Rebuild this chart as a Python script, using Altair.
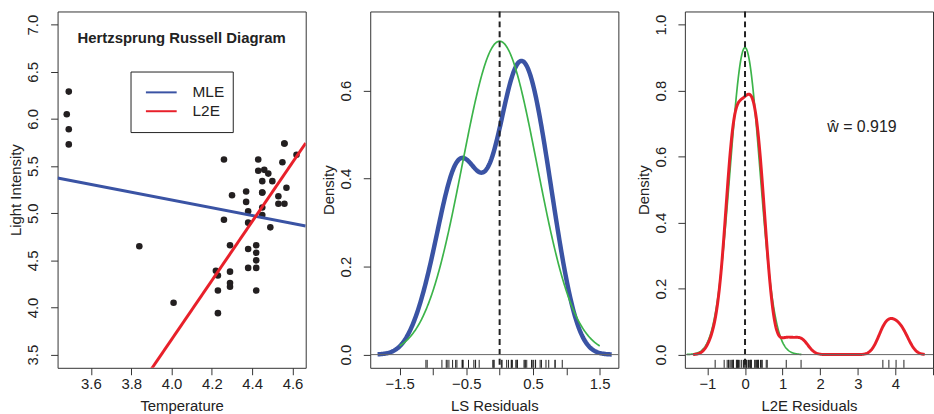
import altair as alt
import numpy as np
import pandas as pd

# ---------------- data (CYG OB1 stars, log scale) ----------------
temperature = [4.37, 4.56, 4.26, 4.56, 4.30, 4.46, 3.84, 4.57, 4.26, 4.37, 3.49, 4.43,
               4.48, 4.01, 4.29, 4.42, 4.23, 4.42, 4.23, 3.49, 4.29, 4.29, 4.42, 4.49,
               4.38, 4.42, 4.29, 4.38, 4.22, 3.48, 4.38, 4.56, 4.45, 3.49, 4.23, 4.62,
               4.53, 4.45, 4.53, 4.43, 4.38, 4.45, 4.50, 4.45, 4.55, 4.45, 4.42]
light = [5.23, 5.74, 4.93, 5.74, 5.19, 5.46, 4.65, 5.27, 5.57, 5.12, 5.73, 5.45,
         5.42, 4.05, 4.26, 4.58, 3.94, 4.18, 4.18, 5.89, 4.38, 4.22, 4.42, 4.85,
         5.02, 4.66, 4.66, 4.90, 4.39, 6.05, 4.42, 5.10, 5.22, 6.29, 4.34, 5.62,
         5.10, 5.22, 5.18, 5.57, 4.62, 5.06, 5.34, 5.34, 5.54, 4.98, 4.50]

# L2E fit
l2e_intercept = -8.86
l2e_slope = 3.13
l2e_weight = 0.919
l2e_sigma = 0.394
ls_sigma = 0.56

legend_labels = ["MLE", "L2E"]
title_text = "Hertzsprung Russell Diagram"
w_label = "ŵ = 0.919"

# tick values
p1_xticks = [3.6, 3.8, 4.0, 4.2, 4.4, 4.6]
p1_yticks = [3.5, 4.0, 4.5, 5.0, 5.5, 6.0, 6.5, 7.0]
p2_xticks = [-1.5, -1.0, -0.5, 0.0, 0.5, 1.0, 1.5]
p2_yticks = [0.0, 0.2, 0.4, 0.6]
p3_xticks = [-1, 0, 1, 2, 3, 4, 5]
p3_yticks = [0.0, 0.2, 0.4, 0.6, 0.8, 1.0]

# ---------------- derived tables ----------------
stars = pd.DataFrame({"temperature": temperature, "light": light})
ls_slope, ls_intercept = np.polyfit(temperature, light, 1)
stars["ls_resid"] = stars["light"] - (ls_intercept + ls_slope * stars["temperature"])
stars["l2e_resid"] = stars["light"] - (l2e_intercept + l2e_slope * stars["temperature"])

p1_xdom = [3.4344, 4.6656]
p1_ydom = [3.36, 7.14]
p2_xdom = [-1.94, 1.78]
p2_ydom = [-0.03, 0.78]
p3_xdom = [-1.6, 5.0]
p3_ydom = [-0.04, 1.04]

l2e_line = pd.DataFrame({"temperature": p1_xdom,
                         "light": [l2e_intercept + l2e_slope * v for v in p1_xdom]})
zero_df = pd.DataFrame({"x": [0.0], "y": [0.0]})
one = pd.DataFrame({"a": [0]})

# ---------------- style ----------------
FONT = "Liberation Sans"
W, H = 250, 359
BLUE = "#3A53A4"
RED = "#E8202A"
GREEN = "#3CB44A"
INK = "#222222"


def xaxis(values, title, label_expr=None):
    kw = dict(values=values, format=".1f", title=title, tickSize=7, labelPadding=2,
              titleX=W / 2, titleY=43, titleBaseline="alphabetic", titleAlign="center")
    if label_expr:
        kw["labelExpr"] = label_expr
    return alt.Axis(**kw)


def yaxis(values, title):
    return alt.Axis(values=values, format=".1f", title=title, tickSize=7,
                    labelAngle=270, labelAlign="center", labelBaseline="bottom",
                    labelPadding=10, titleAngle=270, titleX=-37, titleY=H / 2,
                    titleAlign="center", titleBaseline="alphabetic")


# ---------------- panel 1 ----------------
xs1 = alt.Scale(domain=p1_xdom, nice=False, zero=False)
ys1 = alt.Scale(domain=p1_ydom, nice=False, zero=False)
ax1x = xaxis(p1_xticks, "Temperature")
ax1y = yaxis(p1_yticks, "Light Intensity")
X1 = alt.X("temperature:Q", scale=xs1, axis=ax1x)
Y1 = alt.Y("light:Q", scale=ys1, axis=ax1y)

pts = alt.Chart(stars).mark_circle(size=44, color="#231F20", opacity=1).encode(x=X1, y=Y1)
mle = (alt.Chart(stars).transform_regression("temperature", "light", extent=p1_xdom)
       .mark_line(color=BLUE, strokeWidth=3, clip=True).encode(x=X1, y=Y1))
l2e = alt.Chart(l2e_line).mark_line(color=RED, strokeWidth=3, clip=True).encode(x=X1, y=Y1)
leg_box = alt.Chart(one).mark_rect(fill="white", stroke=INK, strokeWidth=1).encode(
    x=alt.value(74), x2=alt.value(177), y=alt.value(61), y2=alt.value(122))
leg_l1 = alt.Chart(one).mark_rule(color=BLUE, strokeWidth=2).encode(
    x=alt.value(89), x2=alt.value(120), y=alt.value(81.5))
leg_l2 = alt.Chart(one).mark_rule(color=RED, strokeWidth=2).encode(
    x=alt.value(89), x2=alt.value(120), y=alt.value(100.5))
leg_t1 = alt.Chart(one).mark_text(align="left", baseline="middle", font=FONT, fontSize=15.5,
                                  color=INK).encode(x=alt.value(136), y=alt.value(81.5),
                                                    text=alt.value(legend_labels[0]))
leg_t2 = alt.Chart(one).mark_text(align="left", baseline="middle", font=FONT, fontSize=15.5,
                                  color=INK).encode(x=alt.value(136), y=alt.value(100.5),
                                                    text=alt.value(legend_labels[1]))
ttl = alt.Chart(one).mark_text(align="center", baseline="middle", font=FONT, fontSize=15,
                               fontWeight="bold", color=INK).encode(
    x=alt.value(W / 2), y=alt.value(27), text=alt.value(title_text))

p1 = alt.layer(pts, mle, l2e, leg_box, leg_l1, leg_l2, leg_t1, leg_t2, ttl).properties(
    width=W, height=H)

# ---------------- panel 2 ----------------
xs2 = alt.Scale(domain=p2_xdom, nice=False, zero=False)
ys2 = alt.Scale(domain=p2_ydom, nice=False, zero=False)
ax2x = xaxis(p2_xticks, "LS Residuals",
             "(datum.value == -1.5 || datum.value == -0.5 || datum.value == 0.5 || datum.value == 1.5) ? datum.label : ''")
ax2y = yaxis(p2_yticks, "Density")
X2 = lambda f: alt.X(f, type="quantitative", scale=xs2, axis=ax2x)
Y2 = lambda f: alt.Y(f, type="quantitative", scale=ys2, axis=ax2y)

kde2 = (alt.Chart(stars).transform_density("ls_resid", as_=["x", "density"], bandwidth=0.235,
                                           extent=[-1.83, 1.68], steps=300)
        .mark_line(color=BLUE, strokeWidth=4.5).encode(x=X2("x"), y=Y2("density")))
norm2 = (alt.Chart(alt.sequence(-1.5, 1.505, 0.01, as_="x"))
         .transform_calculate(density=f"densityNormal(datum.x, 0, {ls_sigma})")
         .mark_line(color=GREEN, strokeWidth=1.7).encode(x=X2("x"), y=Y2("density")))
h2 = alt.Chart(zero_df).mark_rule(color="#666666", strokeWidth=1).encode(y=Y2("y"))
v2 = alt.Chart(zero_df).mark_rule(color=INK, strokeWidth=2, strokeDash=[6, 4]).encode(
    x=X2("x"), y=alt.value(0), y2=alt.value(H))
rug2 = alt.Chart(stars).mark_rule(color=INK, strokeWidth=1).encode(
    x=X2("ls_resid"), y=alt.value(351), y2=alt.value(359))

p2 = alt.layer(kde2, norm2, v2, h2, rug2).properties(width=W, height=H)

# ---------------- panel 3 ----------------
xs3 = alt.Scale(domain=p3_xdom, nice=False, zero=False)
ys3 = alt.Scale(domain=p3_ydom, nice=False, zero=False)
ax3x = xaxis(p3_xticks, "L2E Residuals", "datum.value < 4.5 ? format(datum.value, 'd') : ''")
ax3y = yaxis(p3_yticks, "Density")
X3 = lambda f: alt.X(f, type="quantitative", scale=xs3, axis=ax3x)
Y3 = lambda f: alt.Y(f, type="quantitative", scale=ys3, axis=ax3y)

norm3 = (alt.Chart(alt.sequence(-1.55, 1.505, 0.01, as_="x"))
         .transform_calculate(density=f"{l2e_weight} * densityNormal(datum.x, 0, {l2e_sigma})")
         .mark_line(color=GREEN, strokeWidth=1.7).encode(x=X3("x"), y=Y3("density")))
kde3 = (alt.Chart(stars).transform_density("l2e_resid", as_=["x", "density"], bandwidth=0.19,
                                           extent=[-1.38, 4.78], steps=400)
        .mark_line(color=RED, strokeWidth=3).encode(x=X3("x"), y=Y3("density")))
h3 = alt.Chart(zero_df).mark_rule(color="#666666", strokeWidth=1).encode(y=Y3("y"))
v3 = alt.Chart(zero_df).mark_rule(color=INK, strokeWidth=2, strokeDash=[6, 4]).encode(
    x=X3("x"), y=alt.value(0), y2=alt.value(H))
rug3 = alt.Chart(stars).mark_rule(color=INK, strokeWidth=1).encode(
    x=X3("l2e_resid"), y=alt.value(351), y2=alt.value(359))
wtxt = alt.Chart(one).mark_text(align="center", baseline="middle", font=FONT, fontSize=16,
                                color=INK).encode(
    x=alt.XDatum(3.11, scale=xs3, axis=ax3x), y=alt.YDatum(0.69, scale=ys3, axis=ax3y),
    text=alt.value(w_label))

p3 = alt.layer(norm3, kde3, v3, h3, rug3, wtxt).properties(width=W, height=H)

chart = (alt.hconcat(p1, p2, p3, spacing=14)
         .properties(padding={"left": 8, "top": 8, "right": 0, "bottom": 0},
                     background="white")
         .configure_view(stroke="#333333", strokeWidth=1)
         .configure_axis(labelFont=FONT, titleFont=FONT, labelFontSize=15, titleFontSize=15,
                         titleFontWeight="normal", labelColor=INK, titleColor=INK,
                         tickColor="#333333", domain=False, grid=False))

chart.save("out.html", embed_options={"renderer": "svg", "actions": False})
